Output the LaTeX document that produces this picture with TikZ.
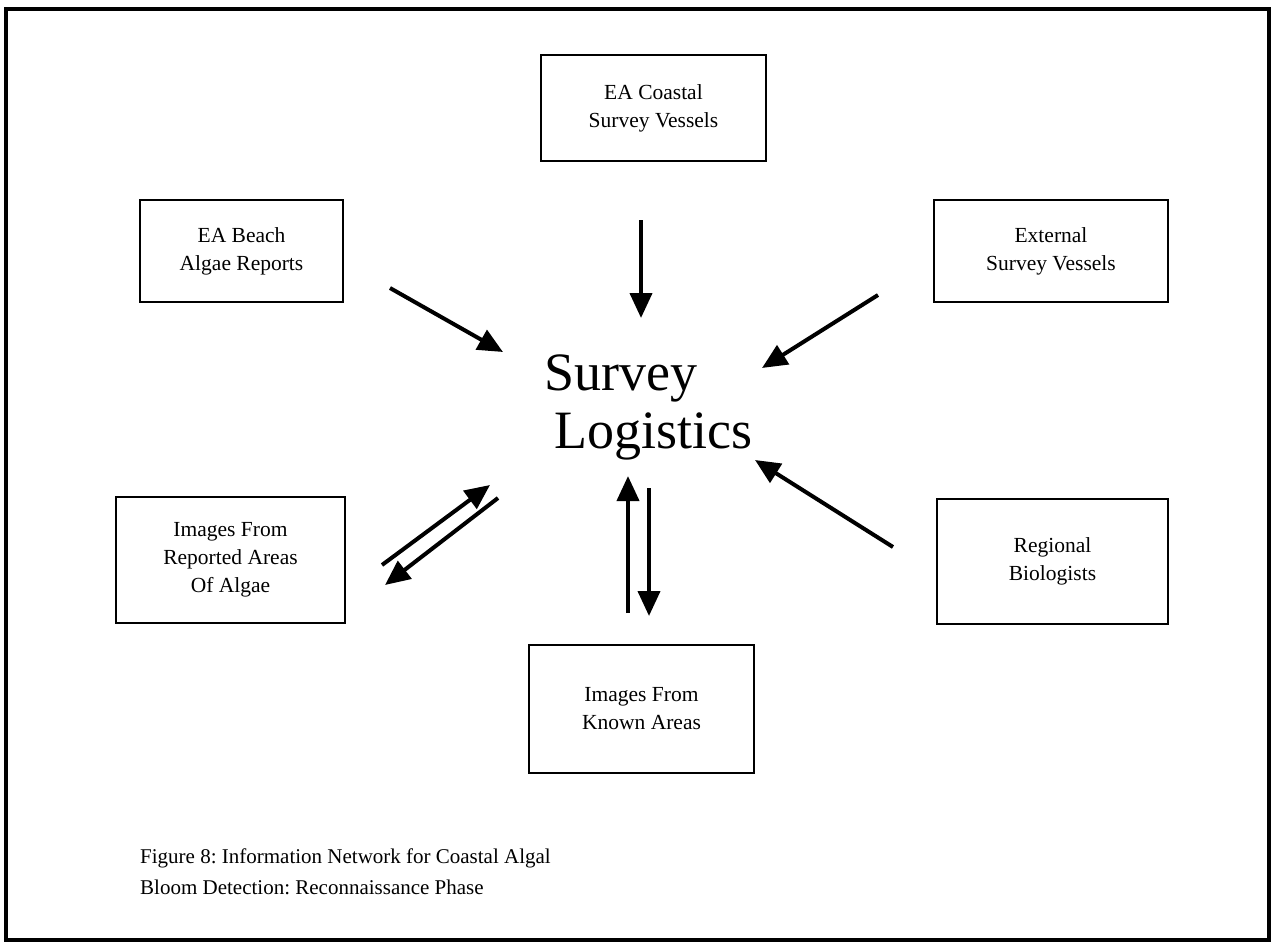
\documentclass[tikz,border=0pt]{standalone}
\usepackage{fontspec}
\setmainfont{Liberation Serif}
\usetikzlibrary{arrows.meta}
\frenchspacing
\begin{document}
\begin{tikzpicture}[x=1pt,y=-1pt,
  infobox/.style={draw,line width=2pt,rectangle,align=center,inner sep=0pt,
    font=\fontsize{21.5}{28}\selectfont},
  flow/.style={line width=4pt,-{Triangle[length=25pt,width=22pt]}},
  bigtext/.style={inner sep=0pt,font=\fontsize{54}{58}\selectfont},
  captext/.style={inner sep=0pt,anchor=west,font=\fontsize{21}{28}\selectfont}]
\useasboundingbox (0,0) rectangle (1273,945);
\draw[line width=4pt] (6,9) rectangle (1269,940);
\node[infobox,minimum width=225pt,minimum height=106pt] (coastal) at (653.5,108) {EA Coastal\\Survey Vessels};
\node[infobox,minimum width=203pt,minimum height=102pt] (beach) at (241.5,251) {EA Beach\\Algae Reports};
\node[infobox,minimum width=234pt,minimum height=102pt] (external) at (1051,251) {External\\Survey Vessels};
\node[infobox,minimum width=229pt,minimum height=126pt] (reported) at (230.5,560) {Images From\\Reported Areas\\Of Algae};
\node[infobox,minimum width=231pt,minimum height=125pt] (regional) at (1052.5,561.5) {Regional\\Biologists};
\node[infobox,minimum width=225pt,minimum height=128pt] (known) at (641.5,709) {Images From\\Known Areas};
\node[bigtext] (survey) at (621,378) {Survey};
\node[bigtext] (logistics) at (653,436) {Logistics};
\coordinate (a1s) at (641,220); \coordinate (a1e) at (641,318);
\coordinate (a2s) at (390,288); \coordinate (a2e) at (503,352);
\coordinate (a3s) at (878,295); \coordinate (a3e) at (762,368);
\coordinate (a4s) at (893,547); \coordinate (a4e) at (755,460);
\coordinate (a5s) at (382,565); \coordinate (a5e) at (490,485);
\coordinate (a6s) at (498,498); \coordinate (a6e) at (385,585);
\coordinate (a7s) at (628,613); \coordinate (a7e) at (628,476);
\coordinate (a8s) at (649,488); \coordinate (a8e) at (649,616);
\draw[flow] (a1s) -- (a1e);
\draw[flow] (a2s) -- (a2e);
\draw[flow] (a3s) -- (a3e);
\draw[flow] (a4s) -- (a4e);
\draw[flow] (a5s) -- (a5e);
\draw[flow] (a6s) -- (a6e);
\draw[flow] (a7s) -- (a7e);
\draw[flow] (a8s) -- (a8e);
\node[captext] (cap1) at (140,858) {Figure 8: Information Network for Coastal Algal};
\node[captext] (cap2) at (140,887) {Bloom Detection: Reconnaissance Phase};
\end{tikzpicture}
\end{document}
